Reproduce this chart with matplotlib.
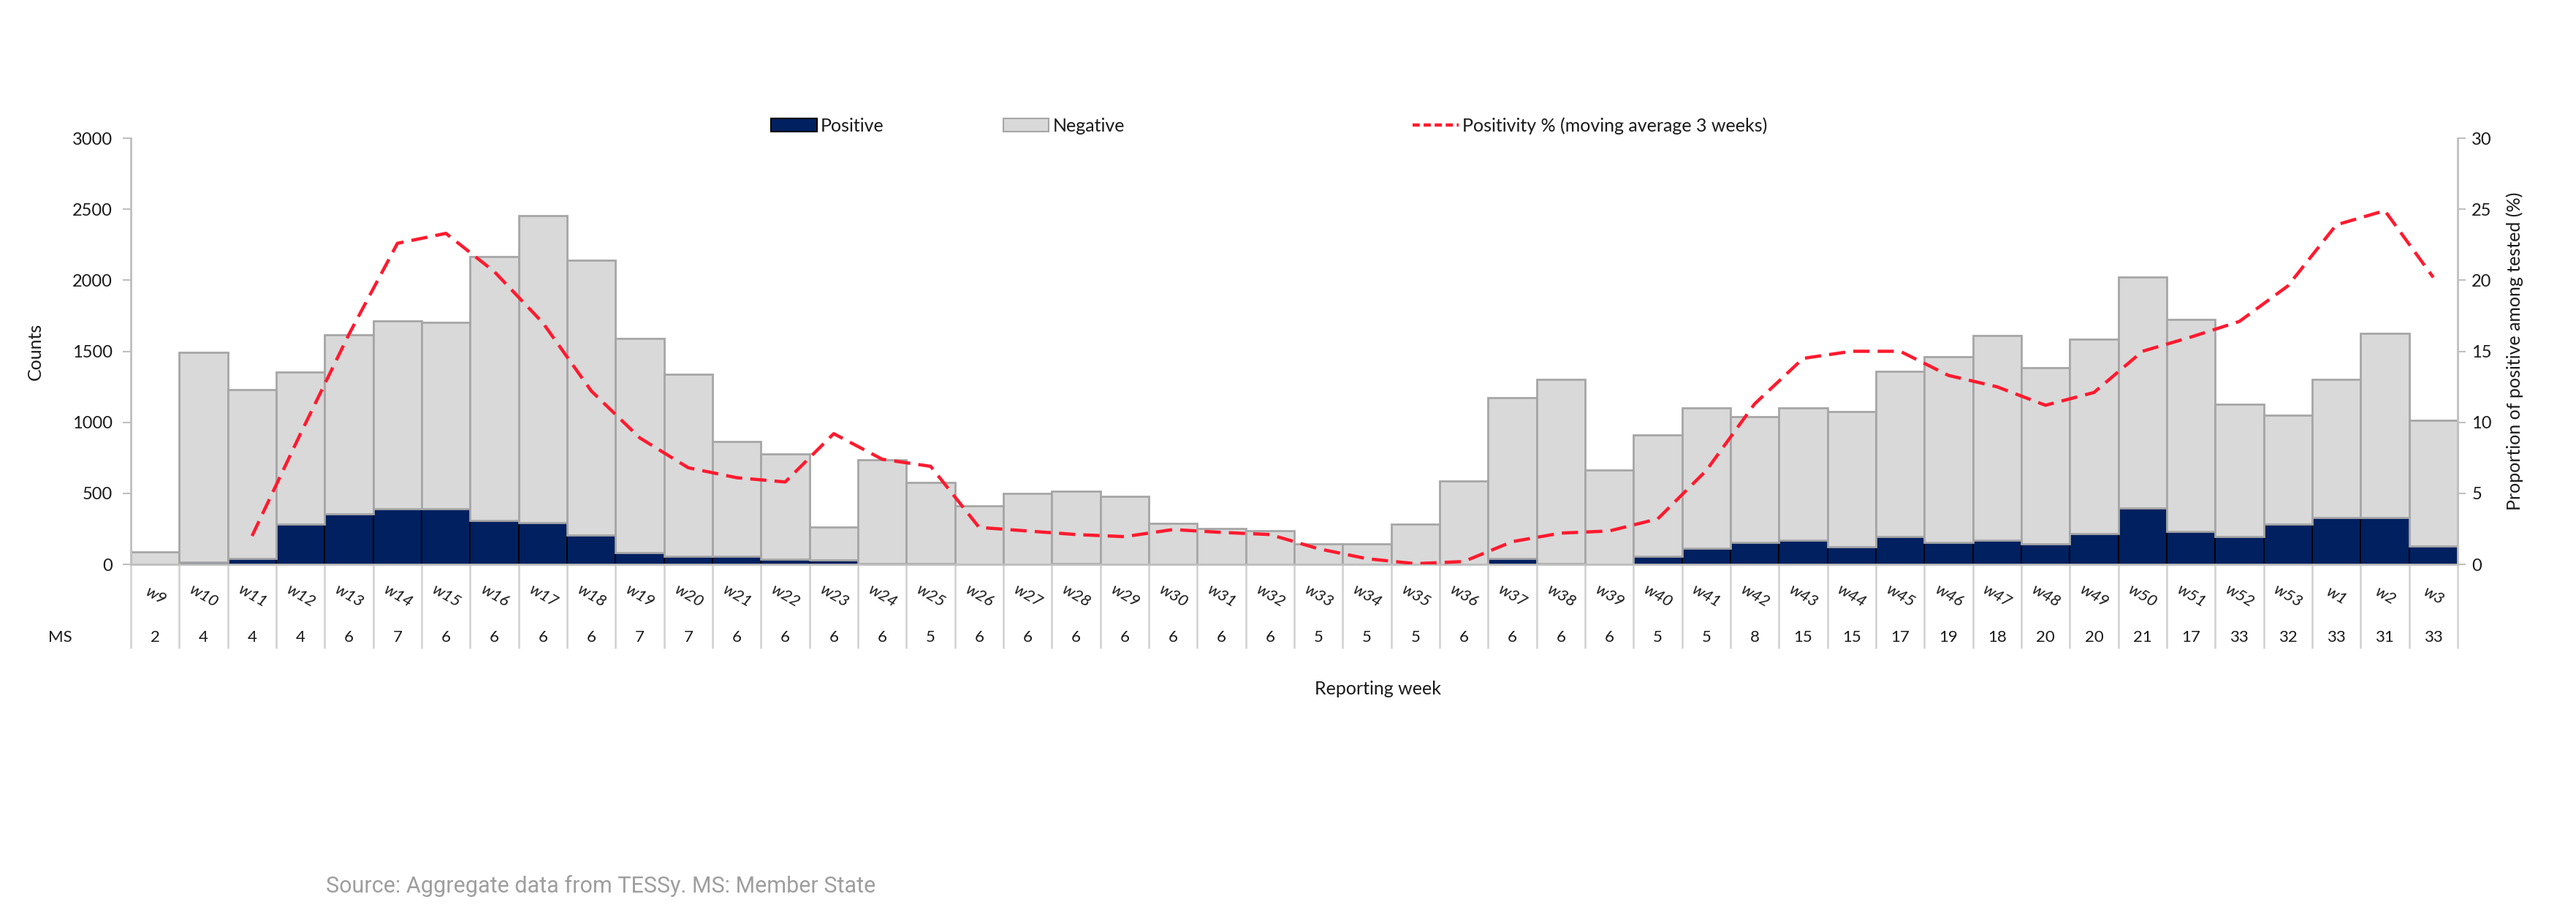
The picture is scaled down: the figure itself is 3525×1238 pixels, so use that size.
import numpy as np
import matplotlib.pyplot as plt
from matplotlib.patches import Patch
from matplotlib.lines import Line2D
from matplotlib.transforms import blended_transform_factory

plt.rcParams['font.family'] = ['Lato', 'DejaVu Sans']

weeks = ['w9', 'w10', 'w11', 'w12', 'w13', 'w14', 'w15', 'w16', 'w17', 'w18', 'w19', 'w20',
         'w21', 'w22', 'w23', 'w24', 'w25', 'w26', 'w27', 'w28', 'w29', 'w30', 'w31', 'w32',
         'w33', 'w34', 'w35', 'w36', 'w37', 'w38', 'w39', 'w40', 'w41', 'w42', 'w43', 'w44',
         'w45', 'w46', 'w47', 'w48', 'w49', 'w50', 'w51', 'w52', 'w53', 'w1', 'w2', 'w3']

ms = [2, 4, 4, 4, 6, 7, 6, 6, 6, 6, 7, 7, 6, 6, 6, 6, 5, 6, 6, 6, 6, 6, 6, 6,
      5, 5, 5, 6, 6, 6, 6, 5, 5, 8, 15, 15, 17, 19, 18, 20, 20, 21, 17, 33, 32, 33, 31, 33]

positive = [0, 16, 42, 282, 356, 393, 393, 308, 293, 207, 82, 57,
            57, 35, 32, 4, 3, 1, 1, 5, 1, 1, 1, 1,
            0, 0, 0, 1, 42, 4, 1, 56, 115, 155, 168, 125,
            195, 156, 168, 145, 218, 395, 233, 195, 282, 332, 332, 131]

negative = [90, 1474, 1188, 1073, 1259, 1322, 1312, 1857, 2162, 1933, 1508, 1283,
            806, 741, 233, 734, 575, 411, 499, 509, 476, 287, 252, 237,
            143, 143, 284, 587, 1133, 1296, 661, 856, 985, 883, 932, 951,
            1165, 1304, 1444, 1241, 1369, 1627, 1493, 930, 768, 968, 1294, 884]

positivity = [np.nan, np.nan, 2.0, 9.2, 16.2, 22.6, 23.3, 20.6, 17.0, 12.2, 8.9, 6.8,
              6.1, 5.8, 9.2, 7.4, 6.9, 2.6, 2.35, 2.1, 1.95, 2.45, 2.25, 2.1,
              1.1, 0.4, 0.05, 0.2, 1.6, 2.2, 2.35, 3.2, 6.6, 11.3, 14.5, 15.0,
              15.0, 13.3, 12.5, 11.2, 12.1, 15.0, 16.0, 17.1, 19.6, 23.9, 24.9, 20.2]

navy = '#002060'
grey_fill = '#d9d9d9'
grey_edge = '#a6a6a6'
axis_grey = '#bfbfbf'
red = '#ff1a2e'
txt = '#1a1a1a'

fig = plt.figure(figsize=(35.25, 12.38), dpi=100)
ax = fig.add_axes([0.0508, 0.3764, 0.9032, 0.4709])

x = np.arange(len(weeks))
ax.bar(x, positive, width=1.0, color=navy, edgecolor='black', linewidth=1.2, zorder=2)
ax.bar(x, negative, width=1.0, bottom=positive, color=grey_fill, edgecolor=grey_edge,
       linewidth=2, zorder=2)

ax.set_xlim(-0.5, len(weeks) - 0.5)
ax.set_ylim(0, 3000)
ax.set_yticks(range(0, 3001, 500))
ax.set_xticks([])
ax.tick_params(axis='y', labelsize=17, colors=txt, length=8, width=1.5, pad=10, color=axis_grey)
for side in ['top', 'right']:
    ax.spines[side].set_visible(False)
for side in ['left', 'bottom']:
    ax.spines[side].set_color(axis_grey)
    ax.spines[side].set_linewidth(2)
ax.set_ylabel('Counts', fontsize=18, color=txt, labelpad=28)

ax2 = ax.twinx()
ax2.plot(x, positivity, color=red, linewidth=3.2, linestyle=(0, (5, 2.5)), zorder=3)
ax2.set_ylim(0, 30)
ax2.set_yticks(range(0, 31, 5))
ax2.tick_params(axis='y', labelsize=17, colors=txt, length=8, width=1.5, pad=6, color=axis_grey)
for side in ['top', 'left', 'bottom']:
    ax2.spines[side].set_visible(False)
ax2.spines['right'].set_color(axis_grey)
ax2.spines['right'].set_linewidth(2)
ax2.set_ylabel('Proportion of positive among tested (%)', fontsize=18, color=txt, labelpad=14)

# table below the axis: week labels and number of member states
trans = blended_transform_factory(ax.transData, ax.transAxes)
ax.vlines(np.arange(len(weeks) + 1) - 0.5, -0.197, 0, transform=trans, colors='#d0d0d0',
          linewidth=1.8, clip_on=False)
for i, (w, m) in enumerate(zip(weeks, ms)):
    ax.text(i, -0.074, w, transform=trans, rotation=-30, ha='center', va='center',
            fontsize=16, color=txt, fontstyle='italic', rotation_mode='anchor')
    ax.text(i, -0.171, str(m), transform=trans, ha='center', va='center', fontsize=16,
            color=txt)
ax.text(-0.0305, -0.171, 'MS', transform=ax.transAxes, ha='center', va='center',
        fontsize=16, color=txt)

fig.text(0.535, 0.239, 'Reporting week', ha='center', va='center', fontsize=18, color=txt)

# legend items placed individually like the original layout
items = [
    (Patch(facecolor=navy, edgecolor='black', linewidth=1.5), 'Positive', 0.2993),
    (Patch(facecolor=grey_fill, edgecolor=grey_edge, linewidth=1.5), 'Negative', 0.3895),
    (Line2D([], [], color=red, linewidth=3.2, linestyle=(0, (2.2, 1.2))),
     'Positivity % (moving average 3 weeks)', 0.5484),
]
for handle, label, xpos in items:
    fig.legend(handles=[handle], labels=[label], loc='center left', bbox_to_anchor=(xpos, 0.861),
               frameon=False, borderpad=0, borderaxespad=0, handlelength=2.5, handleheight=0.7,
               handletextpad=0.2, fontsize=18, labelcolor=txt)

fig.text(0.1265, 0.021, 'Source: Aggregate data from TESSy. MS: Member State', ha='left',
         va='center', fontsize=22, color='#9e9e9e', family='Roboto')

fig.savefig('out.png', dpi=100, facecolor='white')
